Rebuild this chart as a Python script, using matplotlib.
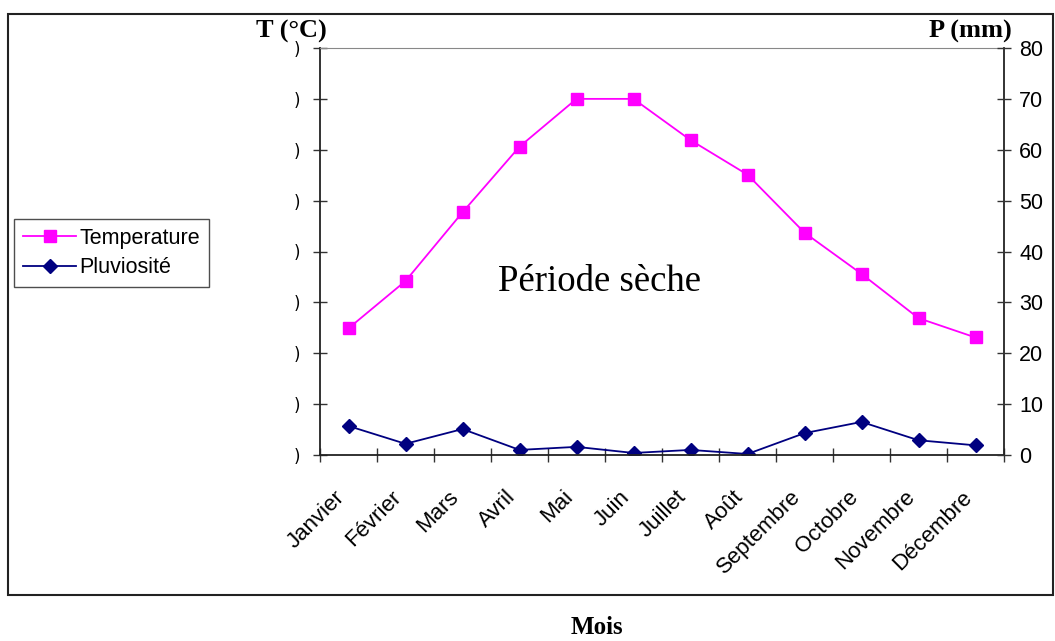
import matplotlib
matplotlib.use('Agg')
import matplotlib.pyplot as plt
from matplotlib.patches import Rectangle
import numpy as np

mois = ['Janvier', 'Février', 'Mars', 'Avril', 'Mai', 'Juin', 'Juillet',
        'Août', 'Septembre', 'Octobre', 'Novembre', 'Décembre']
# temperature drawn on the 0-80 scale (T x 2)
temperature = [24.9, 34.2, 47.7, 60.6, 70.0, 70.0, 61.9, 55.1, 43.7, 35.6, 26.9, 23.1]
pluviosite = [5.7, 2.2, 5.1, 1.0, 1.6, 0.4, 1.0, 0.2, 4.3, 6.5, 2.9, 1.9]
p_ticks = [0, 10, 20, 30, 40, 50, 60, 70, 80]
t_ticklabels = [')'] * len(p_ticks)   # left labels are cut off in the original

fig = plt.figure(figsize=(10.55, 6.41), dpi=100)
fig.patches.append(Rectangle((8 / 1055, 1 - 595 / 641), 1045 / 1055, 581 / 641,
                             transform=fig.transFigure, fill=False,
                             edgecolor='#222222', linewidth=1.5))

ax = fig.add_axes([320 / 1055, 1 - 455 / 641, 684 / 1055, 407 / 641])
x = np.arange(len(mois)) + 0.5
l1, = ax.plot(x, temperature, color='#FF00FF', marker='s', markersize=8,
              linewidth=1.3, label='Temperature')
l2, = ax.plot(x, pluviosite, color='#000080', marker='D', markersize=7.5,
              linewidth=1.3, label='Pluviosité')

ax.set_xlim(0, len(mois))
ax.set_ylim(0, 80)
ax.set_xticks(np.arange(len(mois) + 1))
ax.set_xticklabels([])
ax.set_yticks(p_ticks)
ax.set_yticklabels(t_ticklabels, fontsize=12)
ax.tick_params(axis='both', direction='inout', length=10, width=1, color='#333333')
ax.tick_params(axis='y', pad=9)
for i, m in enumerate(mois):
    ax.text(x[i] - 0.25, -6.2, m, rotation=45, ha='right', va='top',
            rotation_mode='anchor', fontsize=16, family='Liberation Sans')

ax.spines['top'].set_color('#888888')
for s in ['left', 'right', 'bottom']:
    ax.spines[s].set_color('#222222')
    ax.spines[s].set_linewidth(1.3)

ax2 = ax.twinx()
ax2.set_ylim(0, 80)
ax2.set_yticks(p_ticks)
ax2.set_yticklabels([str(v) for v in p_ticks], fontsize=15.5, family='Liberation Sans')
ax2.tick_params(axis='y', direction='inout', length=10, width=1, color='#333333', pad=6)
for s in ax2.spines.values():
    s.set_visible(False)

ax.text(600 / 1055, 1 - 282 / 641, 'Période sèche', transform=fig.transFigure,
        ha='center', va='center', fontsize=26.5, family='Liberation Serif')
fig.text(291 / 1055, 1 - 31 / 641, 'T (°C)', ha='center', va='center',
         fontsize=19, fontweight='bold', family='Liberation Serif')
fig.text(970 / 1055, 1 - 31 / 641, 'P (mm)', ha='center', va='center',
         fontsize=19, fontweight='bold', family='Liberation Serif')
fig.text(597 / 1055, 1 - 628 / 641, 'Mois', ha='center', va='center',
         fontsize=18, fontweight='bold', family='Liberation Serif')

leg = fig.legend(handles=[l1, l2], loc='upper left',
                 bbox_to_anchor=(14 / 1055, 1 - 219 / 641),
                 prop={'family': 'Liberation Sans', 'size': 15.5},
                 frameon=True, fancybox=False, handlelength=2.5,
                 handletextpad=0.15, borderpad=0.4, labelspacing=0.4,
                 borderaxespad=0)
leg.get_frame().set_edgecolor('#222222')
leg.get_frame().set_linewidth(1.0)

fig.savefig('out.png', dpi=100)
